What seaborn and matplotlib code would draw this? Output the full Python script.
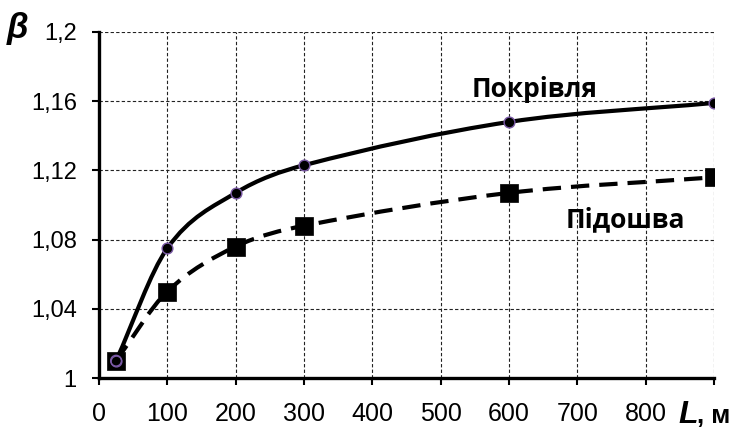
import numpy as np
import pandas as pd
import seaborn as sns
import matplotlib.pyplot as plt
from matplotlib.path import Path
from matplotlib.patches import PathPatch
from matplotlib.ticker import FuncFormatter

# Data
L_values = [25, 100, 200, 300, 600, 900]
roof_beta = [1.010, 1.075, 1.107, 1.123, 1.148, 1.159]   # Покрівля
sole_beta = [1.010, 1.050, 1.076, 1.088, 1.107, 1.116]   # Підошва
x_ticks = [0, 100, 200, 300, 400, 500, 600, 700, 800]
y_ticks = [1.0, 1.04, 1.08, 1.12, 1.16, 1.2]

sns.set_theme(style="white")
plt.rcParams['font.family'] = ['Liberation Sans', 'DejaVu Sans']

fig = plt.figure(figsize=(7.42, 4.37), dpi=100)
ax = fig.add_axes([0.1334, 0.135, 0.8289, 0.7918])


def smooth_path(xs, ys):
    """Piecewise cubic Bezier through the points, tangents from finite differences."""
    x = np.asarray(xs, float)
    y = np.asarray(ys, float)
    n = len(x)
    m = np.empty(n)
    m[0] = (y[1] - y[0]) / (x[1] - x[0])
    m[-1] = (y[-1] - y[-2]) / (x[-1] - x[-2])
    for i in range(1, n - 1):
        m[i] = (y[i + 1] - y[i - 1]) / (x[i + 1] - x[i - 1])
    verts = [(x[0], y[0])]
    codes = [Path.MOVETO]
    for i in range(n - 1):
        h = x[i + 1] - x[i]
        verts += [(x[i] + h / 3, y[i] + m[i] * h / 3),
                  (x[i + 1] - h / 3, y[i + 1] - m[i + 1] * h / 3),
                  (x[i + 1], y[i + 1])]
        codes += [Path.CURVE4] * 3
    return Path(verts, codes)


ax.add_patch(PathPatch(smooth_path(L_values, roof_beta), fill=False,
                       edgecolor='black', lw=3.0, zorder=3,
                       capstyle='butt'))
ax.add_patch(PathPatch(smooth_path(L_values, sole_beta), fill=False,
                       edgecolor='black', lw=3.0, zorder=3,
                       linestyle=(0, (4.4, 2.4)), capstyle='butt'))

df_sole = pd.DataFrame({'L': L_values, 'beta': sole_beta})
df_roof = pd.DataFrame({'L': L_values, 'beta': roof_beta})
sns.scatterplot(data=df_sole, x='L', y='beta', marker='s', s=150,
                color='black', edgecolor='black', linewidth=0.5,
                ax=ax, zorder=4)
sns.scatterplot(data=df_roof, x='L', y='beta', marker='o', s=60,
                color='black', edgecolor='#7b5aa6', linewidth=1.0,
                ax=ax, zorder=5)
# hollow first point of the roof curve drawn on top of the square
sns.scatterplot(x=L_values[:1], y=roof_beta[:1], marker='o', s=60,
                facecolor='none', edgecolor='#7b5aa6', linewidth=1.0,
                ax=ax, zorder=6)

ax.set_xlim(0, 900)
ax.set_ylim(1.0, 1.2)
ax.set_xticks(x_ticks + [900])
ax.set_xticklabels([str(t) for t in x_ticks] + [''])
ax.set_yticks(y_ticks)


def comma_fmt(v, pos):
    s = f"{v:.2f}".rstrip('0').rstrip('.')
    return s.replace('.', ',')


ax.yaxis.set_major_formatter(FuncFormatter(comma_fmt))
ax.set_xlabel('')
ax.set_ylabel('')

ax.grid(True, linestyle=(0, (3, 2)), color='#222222', linewidth=0.8)
ax.set_axisbelow(True)

for side in ['top', 'right']:
    ax.spines[side].set_visible(False)
for side in ['left', 'bottom']:
    ax.spines[side].set_color('black')
    ax.spines[side].set_linewidth(2.4)

ax.tick_params(axis='both', which='both', direction='out', length=5,
               width=1.5, color='black', labelcolor='black',
               left=True, bottom=True)
ax.tick_params(axis='x', labelsize=18, pad=12)
ax.tick_params(axis='y', labelsize=17, pad=11)

# axis captions
fig.text(0.009, 0.934, 'β', fontsize=25, fontweight='bold', style='italic',
         ha='left', va='center', color='black')
fig.text(0.914, 0.032, 'L', fontsize=23, fontweight='bold', style='italic',
         ha='left', va='baseline', color='black')
fig.text(0.940, 0.032, ', м', fontsize=18.5, fontweight='bold',
         ha='left', va='baseline', color='black')

# curve labels
ax.text(637, 1.1624, 'Покрівля', fontsize=19, fontweight='bold',
        family=['Open Sans', 'DejaVu Sans'], ha='center', va='baseline',
        color='black')
ax.text(770, 1.0873, 'Підошва', fontsize=19, fontweight='bold',
        family=['Open Sans', 'DejaVu Sans'], ha='center', va='baseline',
        color='black')

fig.savefig('out.png', dpi=100)
